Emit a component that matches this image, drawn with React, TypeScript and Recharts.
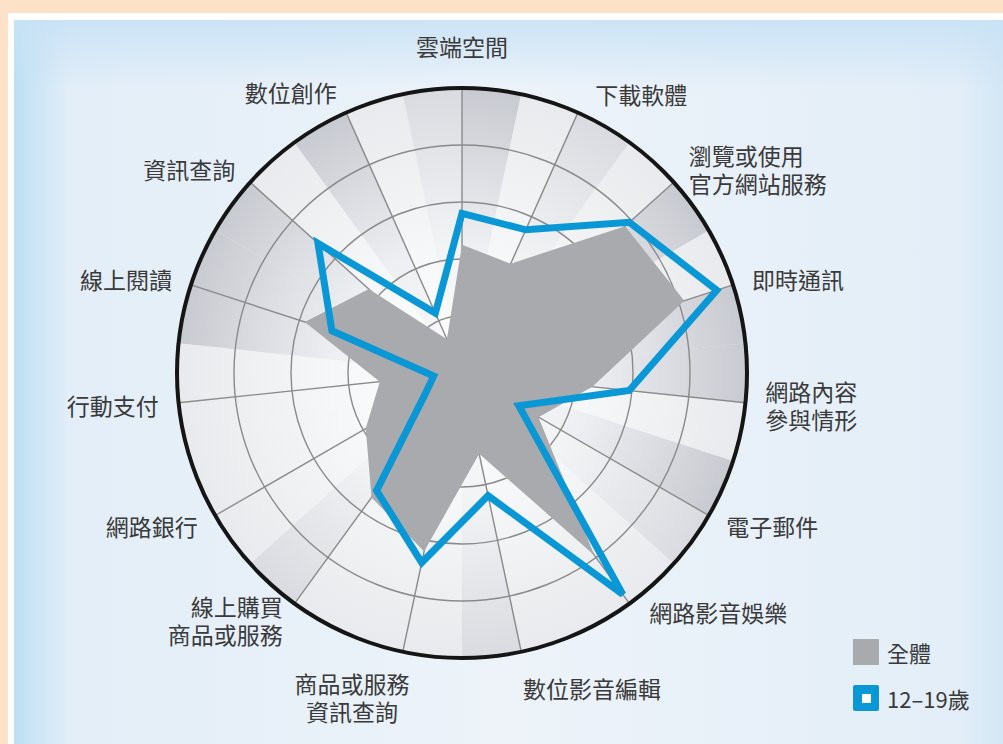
import React from "react";
import {
    RadarChart,
    Radar,
    PolarGrid,
    PolarAngleAxis,
    PolarRadiusAxis,
    PieChart,
    Pie,
    Cell,
    Legend,
} from "recharts";

// categories clockwise from the top
const categories = [
    "雲端空間",
    "下載軟體",
    "瀏覽或使用\n官方網站服務",
    "即時通訊",
    "網路內容\n參與情形",
    "電子郵件",
    "網路影音娛樂",
    "數位影音編輯",
    "商品或服務\n資訊查詢",
    "線上購買\n商品或服務",
    "網路銀行",
    "行動支付",
    "線上閱讀",
    "資訊查詢",
    "數位創作",
];

// percent
const allUsers = [45, 42, 77, 82, 46, 31, 79, 29, 64, 54, 39, 29, 58, 44, 13];
const teens = [56, 55, 79, 94, 59, 23, 96, 44, 68, 51, 15, 10, 48, 68, 23];

const seriesNames = ["全體", "12–19歲"];

// background wedge shading, 12 degree slices clockwise from the top
const wedgeShades = [
    "dark", "light", "mid", "light", "dark", "light",
    "dark", "dark", "light", "dark", "mid", "light",
    "light", "light", "mid", "light", "light", "light",
    "mid", "light", "light", "light", "light", "dark",
    "dark", "dark", "light", "dark", "light", "mid",
];

const W = 1003;
const H = 744;
const CX = 462;
const CY = 373;
const OUTER_R = 285;
const FONT = '"Noto Sans CJK TC", "Noto Sans", sans-serif';
const BLUE = "#0a97d5";
const GRAY = "#a9aaad";

const data = categories.map((name, i) => ({
    name,
    all: allUsers[i],
    teen: teens[i],
}));

const wedgeData = wedgeShades.map((shade, i) => ({ id: i, shade, value: 1 }));

const labelNudge: Record<string, { dx: number; dy: number; anchor?: string }> = {
    "商品或服務\n資訊查詢": { dx: -43, dy: 9, anchor: "middle" },
    "數位影音編輯": { dx: -6, dy: 0 },
    "下載軟體": { dx: 8, dy: 2 },
    "網路影音娛樂": { dx: 8, dy: -8 },
};

const AngleTick = (props: any) => {
    const { payload, index } = props;
    const ang =
        typeof payload?.coordinate === "number"
            ? payload.coordinate
            : 90 - (index * 360) / categories.length;
    const rad = (ang * Math.PI) / 180;
    const c = Math.cos(rad);
    const s = Math.sin(rad);
    const extra = Math.abs(s) > 0.9 ? ((Math.abs(s) - 0.9) / 0.1) * 22 : 0;
    const r = OUTER_R + 20 + extra;
    const label = String(payload.value);
    const nudge = labelNudge[label] || { dx: 0, dy: 0 };
    const x = CX + r * c + nudge.dx;
    const y = CY - r * s + nudge.dy;
    const anchor =
        nudge.anchor || (Math.abs(c) < 0.01 ? "middle" : c > 0 ? "start" : "end");
    const lines = label.split("\n");
    const lh = 28;
    return (
        <text
            x={x}
            y={y}
            textAnchor={anchor}
            dominantBaseline="central"
            fontFamily={FONT}
            fontSize={23}
            fill="#3a3a3a"
        >
            {lines.map((ln, i) => (
                <tspan key={i} x={x} dy={i === 0 ? (-(lines.length - 1) * lh) / 2 : lh}>
                    {ln}
                </tspan>
            ))}
        </text>
    );
};

const LegendBox = (props: any) => {
    const items = props.payload || [];
    const ordered = seriesNames
        .map((n) => items.find((it: any) => it.value === n))
        .filter(Boolean);
    return (
        <div style={{ fontFamily: FONT, fontSize: 22, color: "#3a3a3a" }}>
            {ordered.map((it: any, i: number) => (
                <div
                    key={i}
                    style={{ display: "flex", alignItems: "center", height: 26, marginBottom: 20 }}
                >
                    {it.value === seriesNames[0] ? (
                        <div style={{ width: 26, height: 26, background: GRAY }} />
                    ) : (
                        <div
                            style={{
                                width: 26,
                                height: 26,
                                background: BLUE,
                                borderRadius: 2,
                                display: "flex",
                                alignItems: "center",
                                justifyContent: "center",
                            }}
                        >
                            <div style={{ width: 9, height: 9, background: "#fff" }} />
                        </div>
                    )}
                    <span style={{ marginLeft: 8 }}>{it.value}</span>
                </div>
            ))}
        </div>
    );
};

const shadeFill: Record<string, string> = {
    dark: "url(#wedge-dark)",
    mid: "url(#wedge-mid)",
    light: "url(#wedge-light)",
};

export default function App() {
    return (
        <div
            style={{
                position: "absolute",
                left: 0,
                top: 0,
                width: W,
                height: H,
                background: "#fde2c7",
                overflow: "hidden",
            }}
        >
            <div style={{ position: "absolute", left: 8, top: 13, right: 0, bottom: 0, background: "#fff" }} />
            <div
                style={{
                    position: "absolute",
                    left: 14,
                    top: 20,
                    right: 0,
                    bottom: 0,
                    background:
                        "linear-gradient(to bottom, rgba(200,226,245,0.9) 0px, rgba(233,241,249,0) 70px), linear-gradient(to right, #bddff4 0px, #e3eef8 55px, #edf3f9 50%, #e3eef8 calc(100% - 45px), #d3e7f6 100%)",
                }}
            />
            <div style={{ position: "absolute", left: 0, top: 0 }}>
                <PieChart width={W} height={H} margin={{ top: 0, right: 0, bottom: 0, left: 0 }}>
                    <defs>
                        <radialGradient id="wedge-dark" gradientUnits="userSpaceOnUse" cx={CX} cy={CY} r={OUTER_R}>
                            <stop offset="0" stopColor="#fbfbfc" />
                            <stop offset="0.45" stopColor="#eeeff2" />
                            <stop offset="1" stopColor="#c8cad1" />
                        </radialGradient>
                        <radialGradient id="wedge-mid" gradientUnits="userSpaceOnUse" cx={CX} cy={CY} r={OUTER_R}>
                            <stop offset="0" stopColor="#fcfcfd" />
                            <stop offset="0.45" stopColor="#f2f3f5" />
                            <stop offset="1" stopColor="#d9dbe0" />
                        </radialGradient>
                        <radialGradient id="wedge-light" gradientUnits="userSpaceOnUse" cx={CX} cy={CY} r={OUTER_R}>
                            <stop offset="0" stopColor="#ffffff" />
                            <stop offset="0.45" stopColor="#f6f7f8" />
                            <stop offset="1" stopColor="#e8eaed" />
                        </radialGradient>
                    </defs>
                    <Pie
                        data={wedgeData}
                        dataKey="value"
                        nameKey="id"
                        cx={CX}
                        cy={CY}
                        innerRadius={0}
                        outerRadius={OUTER_R}
                        startAngle={90}
                        endAngle={-270}
                        stroke="none"
                        isAnimationActive={false}
                    >
                        {wedgeData.map((w) => (
                            <Cell key={`w-${w.id}`} fill={shadeFill[w.shade]} />
                        ))}
                    </Pie>
                </PieChart>
            </div>
            <div style={{ position: "absolute", left: 0, top: 0 }}>
                <RadarChart
                    width={W}
                    height={H}
                    data={data}
                    cx={CX}
                    cy={CY}
                    outerRadius={OUTER_R}
                    startAngle={90}
                    endAngle={-270}
                    margin={{ top: 0, right: 0, bottom: 0, left: 0 }}
                >
                    <PolarGrid gridType="circle" stroke="#8a8a8a" strokeWidth={1.4} />
                    <PolarGrid
                        gridType="circle"
                        polarRadius={[OUTER_R]}
                        radialLines={false}
                        stroke="#151515"
                        strokeWidth={4}
                    />
                    <PolarRadiusAxis domain={[0, 100]} tickCount={6} tick={false} axisLine={false} />
                    <PolarAngleAxis dataKey="name" tick={<AngleTick />} tickLine={false} axisLine={false} />
                    <Radar
                        name={seriesNames[0]}
                        dataKey="all"
                        fill={GRAY}
                        fillOpacity={1}
                        stroke="none"
                        isAnimationActive={false}
                    />
                    <Radar
                        name={seriesNames[1]}
                        dataKey="teen"
                        fill="none"
                        fillOpacity={0}
                        stroke={BLUE}
                        strokeWidth={7}
                        strokeLinejoin="miter"
                        isAnimationActive={false}
                    />
                    <Legend
                        content={<LegendBox />}
                        wrapperStyle={{ position: "absolute", left: 853, top: 639, width: 140, bottom: "auto" }}
                    />
                </RadarChart>
            </div>
        </div>
    );
}
